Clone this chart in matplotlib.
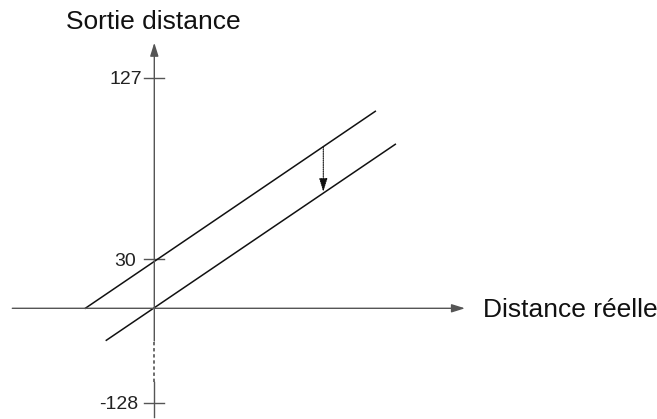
import numpy as np
import matplotlib
matplotlib.use('Agg')
import matplotlib.pyplot as plt

# #####################
# ### SCHEMA DATA   ###
# #####################
# schematic units, origin where the two axes cross

# y axis ticks (positions are schematic, not to scale)
tick_pos = [230.6, 49.3, -94.4]
tick_lab = ['127', '30', '-128']
tick_lab_x = [-12.0, -18.0, -16.0]

# the two parallel lines
up_x = [-69.0, 221.0]
up_y = [0.0, 197.0]
lo_x = [-48.0, 241.0]
lo_y = [-32.0, 164.0]

# dotted offset arrow
off_x = [169.0, 169.0]
off_y = [161.6, 116.6]

# axes extents
xaxis_x = [-142.0, 310.7]
yaxis_y = [-108.7, 265.6]
ybreak = [-73.7, -32.7]

plt.rcParams['font.family'] = ['Liberation Sans', 'DejaVu Sans']

fig = plt.figure(figsize=(6.57, 4.19), dpi=100)
ax = fig.add_axes([0, 0, 1, 1])
ax.set_xlim(-154.3, 502.7)
ax.set_ylim(-110.7, 308.3)
ax.axis('off')

axcol = '#555555'

# x axis with arrow
ax.annotate('', xy=(xaxis_x[1], 0), xytext=(xaxis_x[0], 0),
            arrowprops=dict(arrowstyle='-|>,head_length=0.8,head_width=0.25',
                            color=axcol, lw=1.0, shrinkA=0, shrinkB=0))

# y axis: solid / dashed break / solid with arrow
ax.plot([0, 0], [yaxis_y[0], ybreak[0]], '-', color=axcol, lw=1.0)
ax.plot([0, 0], [ybreak[0], ybreak[1]], '--', color='#444444', lw=1.1, dashes=(2.2, 1.8))
ax.annotate('', xy=(0, yaxis_y[1]), xytext=(0, ybreak[1]),
            arrowprops=dict(arrowstyle='-|>,head_length=0.8,head_width=0.25',
                            color=axcol, lw=1.0, shrinkA=0, shrinkB=0))

# ticks
for p, l, lx in zip(tick_pos, tick_lab, tick_lab_x):
    ax.plot([-10, 10], [p, p], '-', color=axcol, lw=1.0)
    ax.text(lx, p, l, fontsize=14, ha='right', va='center_baseline', color='#222222')

# lines
ax.plot(up_x, up_y, '-', color='#111111', lw=1.1)
ax.plot(lo_x, lo_y, '-', color='#111111', lw=1.1)

# offset arrow
ax.annotate('', xy=(off_x[1], off_y[1]), xytext=(off_x[0], off_y[0]),
            arrowprops=dict(arrowstyle='-|>,head_length=0.8,head_width=0.25',
                            color='#111111', lw=0.8, ls=(0, (1, 1)),
                            shrinkA=0, shrinkB=0))

# labels
ax.text(-1, 279, 'Sortie distance', fontsize=19, ha='center', va='baseline', color='#111111')
ax.text(328.7, -8.4, 'Distance réelle', fontsize=19, ha='left', va='baseline', color='#111111')

plt.savefig('out.png', dpi=100)
